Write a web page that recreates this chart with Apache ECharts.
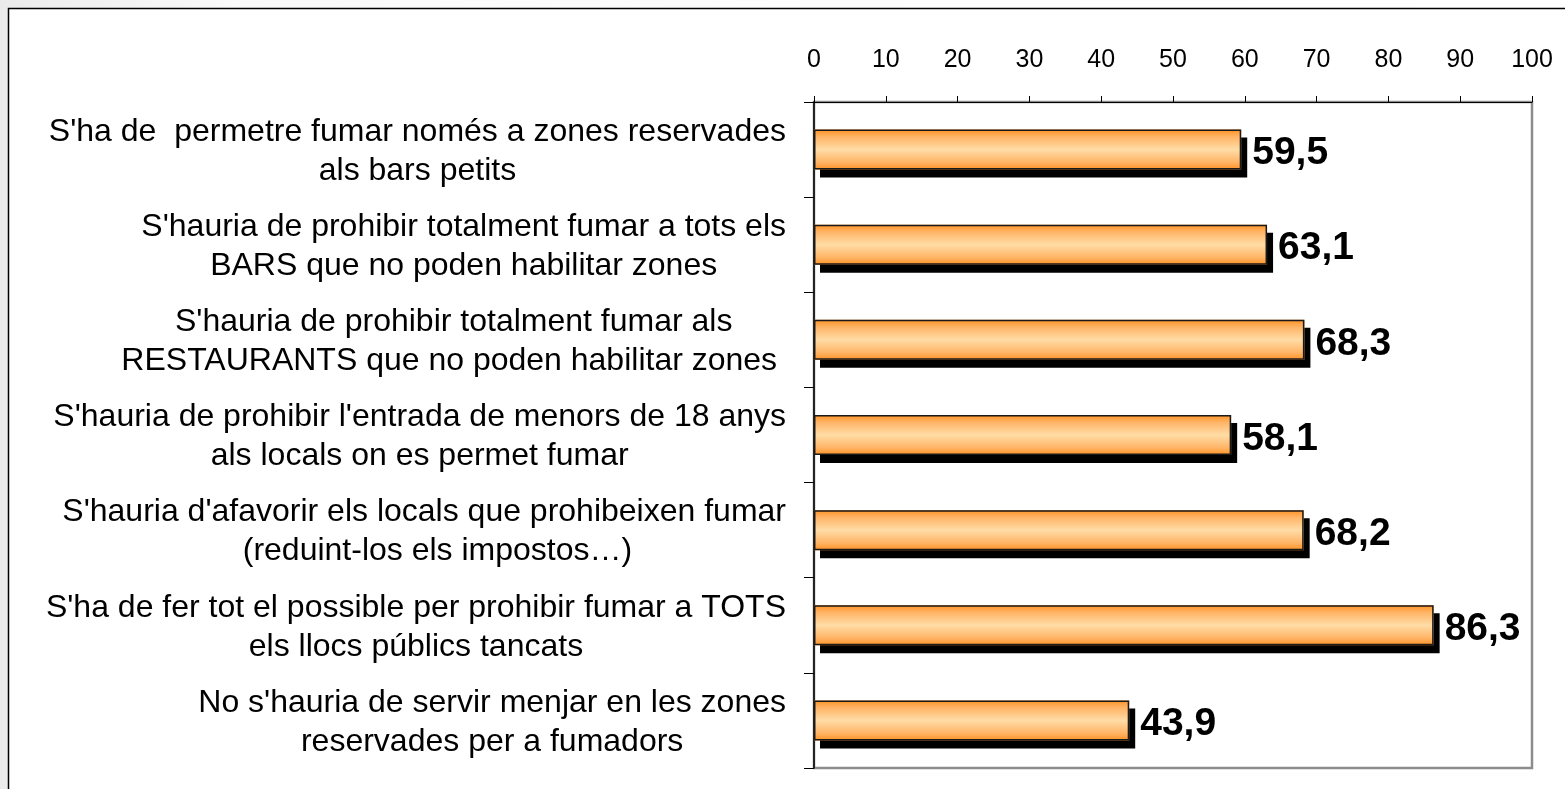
<!DOCTYPE html>
<html>
<head>
<meta charset="utf-8">
<script src="https://cdn.jsdelivr.net/npm/echarts@6/dist/echarts.min.js"></script>
<style>
html,body{margin:0;padding:0;background:#fff;}
#chart{width:1565px;height:789px;}
</style>
</head>
<body>
<div id="chart"></div>
<script>
// Category labels (each with two lines), top to bottom
const categories = [
  ["S'ha de  permetre fumar només a zones reservades", "als bars petits"],
  ["S'hauria de prohibir totalment fumar a tots els", "BARS que no poden habilitar zones"],
  ["S'hauria de prohibir totalment fumar als", "RESTAURANTS que no poden habilitar zones "],
  ["S'hauria de prohibir l'entrada de menors de 18 anys", "als locals on es permet fumar"],
  ["S'hauria d'afavorir els locals que prohibeixen fumar", "   (reduint-los els impostos…)"],
  ["S'ha de fer tot el possible per prohibir fumar a TOTS", "els llocs públics tancats"],
  ["No s'hauria de servir menjar en les zones", "reservades per a fumadors"]
];
const values = [59.5, 63.1, 68.3, 58.1, 68.2, 86.3, 43.9];
const axisMin = 0;
const axisMax = 100;
const axisStep = 10;

const font = "'Liberation Sans', Arial, sans-serif";
const chart = echarts.init(document.getElementById('chart'), null, {renderer: 'canvas'});

const barGradient = new echarts.graphic.LinearGradient(0, 0, 0, 1, [
  {offset: 0, color: '#FF9224'},
  {offset: 0.18, color: '#FFB466'},
  {offset: 0.5, color: '#FFDCA6'},
  {offset: 0.82, color: '#FFB466'},
  {offset: 1, color: '#FF9224'}
]);

chart.setOption({
  animation: false,
  backgroundColor: '#ffffff',
  graphic: [
    {
      type: 'rect', silent: true, z: -10,
      shape: {x: 0, y: 0, width: 1565, height: 789},
      style: {fill: new echarts.graphic.LinearGradient(0, 0, 1, 0, [
        {offset: 0, color: '#ebebeb'}, {offset: 0.15, color: '#fafafa'}, {offset: 1, color: '#ffffff'}
      ])}
    },
    {
      type: 'rect', silent: true, z: -9,
      shape: {x: 8.5, y: 8.5, width: 1620, height: 820},
      style: {fill: '#ffffff', stroke: '#000000', lineWidth: 1.5}
    }
  ],
  grid: {
    left: 814, right: 33, top: 102, bottom: 21,
    show: true, borderColor: '#8c8c8c', borderWidth: 2.5, backgroundColor: 'transparent'
  },
  xAxis: {
    type: 'value', position: 'top',
    min: axisMin, max: axisMax, interval: axisStep,
    splitLine: {show: false},
    axisLine: {show: true, onZero: false, lineStyle: {color: '#000', width: 1}},
    axisTick: {show: true, length: 6, lineStyle: {color: '#000', width: 1}},
    axisLabel: {color: '#000', fontSize: 25, fontFamily: font, margin: 29}
  },
  yAxis: {
    type: 'category', inverse: true,
    data: categories.map(c => c.join('\n')),
    axisLine: {show: true, lineStyle: {color: '#000', width: 1.5}},
    axisTick: {show: true, length: 10, alignWithLabel: false, lineStyle: {color: '#000', width: 1}},
    splitLine: {show: false},
    axisLabel: {
      color: '#000', fontSize: 32, fontFamily: font, margin: 28, align: 'right',
      lineHeight: 39,
      formatter: function (v) {
        return v.split('\n').map(l => '{c|' + l + '}').join('\n');
      },
      rich: {c: {align: 'center', fontSize: 32, fontFamily: font, color: '#000', lineHeight: 39, padding: [4, 0, 0, 0]}}
    }
  },
  series: [
    {
      type: 'bar',
      data: values,
      barWidth: 40,
      z: 2,
      itemStyle: {
        color: barGradient,
        borderWidth: 0,
        shadowColor: '#000000', shadowBlur: 0, shadowOffsetX: 6, shadowOffsetY: 8
      }
    },
    {
      type: 'bar',
      data: values,
      barWidth: 40,
      barGap: '-100%',
      z: 3,
      itemStyle: {
        color: 'rgba(0,0,0,0)',
        borderColor: '#1a1a1a', borderWidth: 1.5
      },
      label: {
        show: true, position: 'right', distance: 11, offset: [0, 4],
        color: '#000', fontSize: 39, fontWeight: 'bold', fontFamily: font,
        formatter: p => String(p.value).replace('.', ',')
      }
    }
  ]
});
</script>
</body>
</html>
